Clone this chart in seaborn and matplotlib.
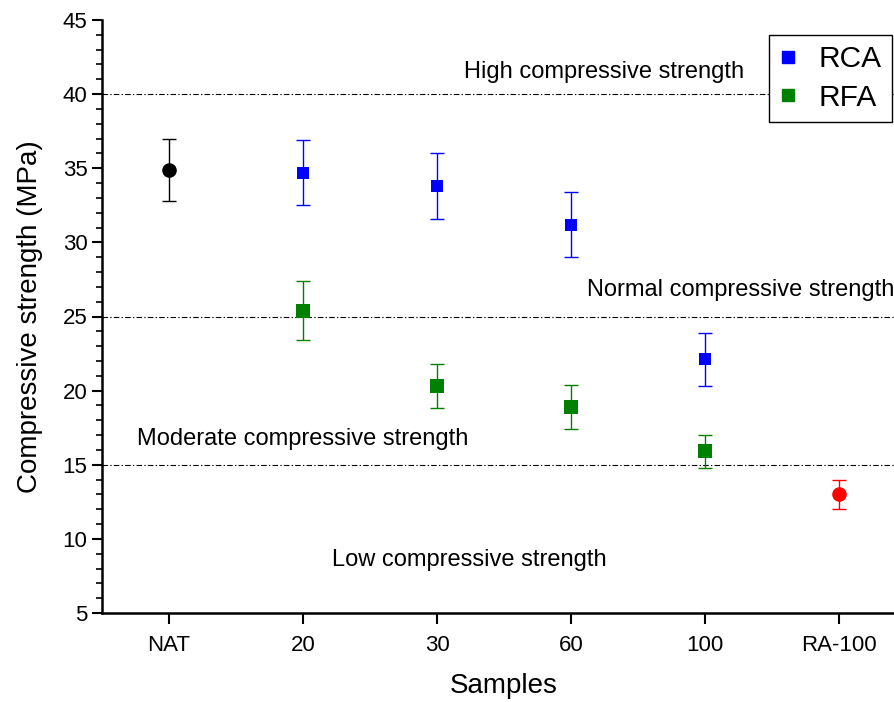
import matplotlib
matplotlib.use("Agg")
import matplotlib.pyplot as plt
import seaborn as sns
import pandas as pd
from matplotlib.ticker import MultipleLocator
from matplotlib.lines import Line2D

# ---- data ----
samples = ["NAT", "20", "30", "60", "100", "RA-100"]

nat_samples = ["NAT"]
nat_mean = [34.9]
nat_err = [2.1]

rca_samples = ["20", "30", "60", "100"]
rca_mean = [34.7, 33.8, 31.2, 22.1]
rca_err = [2.2, 2.2, 2.2, 1.8]

rfa_samples = ["20", "30", "60", "100"]
rfa_mean = [25.4, 20.3, 18.9, 15.9]
rfa_err = [2.0, 1.5, 1.5, 1.1]

ra_samples = ["RA-100"]
ra_mean = [13.0]
ra_err = [1.0]

class_levels = [40, 25, 15]
class_labels = ["High compressive strength", "Normal compressive strength",
                "Moderate compressive strength", "Low compressive strength"]

# ---- figure ----
sns.set_style("ticks")
plt.rcParams["font.family"] = ["Liberation Sans", "DejaVu Sans"]
plt.rcParams["text.color"] = "black"
plt.rcParams["axes.labelcolor"] = "black"
plt.rcParams["xtick.color"] = "black"
plt.rcParams["ytick.color"] = "black"

fig = plt.figure(figsize=(8.94, 7.02), dpi=100)
ax = fig.add_axes([102 / 894, 89 / 702, 804 / 894, 593 / 702])
ax.xaxis.update_units(samples)

groups = [
    ("NAT", nat_samples, nat_mean, nat_err, "black", "o", 10.5),
    ("RCA", rca_samples, rca_mean, rca_err, "#0000FF", "s", 8.0),
    ("RFA", rfa_samples, rfa_mean, rfa_err, "#008000", "s", 9.5),
    ("RA-100", ra_samples, ra_mean, ra_err, "#FF0000", "o", 10.5),
]

for name, xs, ys, es, col, mk, ms in groups:
    df = pd.DataFrame({"Samples": xs, "Strength": ys})
    ax.errorbar(xs, ys, yerr=es, fmt="none", ecolor=col, elinewidth=1.0,
                capsize=5, capthick=1.0, zorder=2)
    sns.scatterplot(data=df, x="Samples", y="Strength", ax=ax, color=col,
                    marker=mk, s=ms ** 2, edgecolor=col, linewidth=0,
                    zorder=3, legend=False)

for lv in class_levels:
    ax.axhline(lv, color="black", lw=0.8, ls=(0, (5, 2, 1.2, 2)), zorder=1)

ax.text(3.25, 41.5, class_labels[0], ha="center", va="center", fontsize=17)
ax.text(3.12, 26.8, class_labels[1], ha="left", va="center", fontsize=17)
ax.text(-0.24, 16.75, class_labels[2], ha="left", va="center", fontsize=17)
ax.text(1.22, 8.6, class_labels[3], ha="left", va="center", fontsize=17)

ax.set_xlim(-0.5, 5.5)
ax.set_ylim(5, 45)
ax.yaxis.set_major_locator(MultipleLocator(5))
ax.yaxis.set_minor_locator(MultipleLocator(1))

ax.set_xlabel("Samples", fontsize=20, labelpad=12)
ax.set_ylabel("Compressive strength (MPa)", fontsize=20, labelpad=14)

for side in ["top", "right"]:
    ax.spines[side].set_visible(False)
for side in ["left", "bottom"]:
    ax.spines[side].set_linewidth(1.8)
    ax.spines[side].set_color("black")

ax.tick_params(axis="both", which="major", direction="out", length=7,
               width=1.5, labelsize=16, colors="black")
ax.tick_params(axis="y", which="minor", direction="out", length=4, width=1.2)
ax.tick_params(axis="x", which="major", length=8, pad=8)

handles = [
    Line2D([], [], color="#0000FF", marker="s", ls="none", markersize=8),
    Line2D([], [], color="#008000", marker="s", ls="none", markersize=8),
]
leg = ax.legend(handles, ["RCA", "RFA"], loc="upper left",
                bbox_to_anchor=((769 - 102) / 804, (702 - 35 - 89) / 593),
                bbox_transform=ax.transAxes, fontsize=21.5, frameon=True,
                fancybox=False, edgecolor="black", framealpha=1,
                handletextpad=0.7, borderpad=0.35, labelspacing=0.35,
                handlelength=0.6, borderaxespad=0)
leg.get_frame().set_linewidth(1.0)

fig.savefig("out.png", dpi=100)
